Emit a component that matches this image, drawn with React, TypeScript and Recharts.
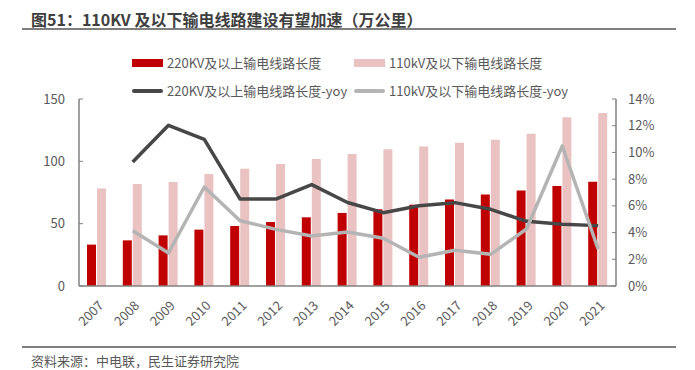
import React from 'react'
import { ComposedChart, Bar, Line, XAxis, YAxis } from 'recharts'

const years = ['2007', '2008', '2009', '2010', '2011', '2012', '2013', '2014', '2015', '2016', '2017', '2018', '2019', '2020', '2021']
const len220 = [33.2, 36.6, 40.6, 45.2, 48.1, 51.3, 55.1, 58.6, 61.5, 65.2, 69.3, 73.3, 76.7, 80.2, 83.7]
const len110 = [78.3, 81.8, 83.4, 89.8, 94.1, 97.9, 101.9, 105.9, 109.6, 111.8, 115.0, 117.4, 122.2, 135.3, 138.8]
const yoy220 = [null, 9.28, 12.03, 10.98, 6.51, 6.51, 7.59, 6.25, 5.49, 6.01, 6.24, 5.74, 4.84, 4.62, 4.52]
const yoy110 = [null, 4.14, 2.47, 7.41, 4.89, 4.24, 3.74, 4.04, 3.57, 2.15, 2.67, 2.37, 4.27, 10.48, 2.77]
const leftTicks = [0, 50, 100, 150]
const rightTicks = [0, 2, 4, 6, 8, 10, 12, 14]

const FONT = '"Noto Sans CJK SC", "Noto Sans", sans-serif'
const RED = '#c00000'
const PINK = '#eac2c2'
const DARK = '#474747'
const LIGHT = '#b4b4b4'
const AXIS = '#808080'
const TEXT = '#595959'

const data = years.map((y, i) => ({
  year: y,
  len220: len220[i],
  len110: len110[i],
  yoy220: yoy220[i],
  yoy110: yoy110[i],
}))

function YearTick({ x, y, payload }: any) {
  const tx = x + 1
  const ty = y + 6
  return (
    <text
      x={tx}
      y={ty}
      transform={`rotate(-45 ${tx} ${ty})`}
      textAnchor="end"
      dy="0.7em"
      fontSize={13}
      fill={TEXT}
      fontFamily={FONT}
    >
      {payload.value}
    </text>
  )
}

function LegendItem({ left, top, kind, color, label }: { left: number; top: number; kind: 'bar' | 'line'; color: string; label: string }) {
  return (
    <div style={{ position: 'absolute', left, top, display: 'flex', alignItems: 'center', whiteSpace: 'nowrap' }}>
      <span
        style={{
          display: 'inline-block',
          width: 31,
          height: kind === 'bar' ? 8 : 4,
          borderRadius: kind === 'line' ? 2 : 0,
          background: color,
          marginRight: 4,
        }}
      />
      <span style={{ fontSize: 13, color: TEXT }}>{label}</span>
    </div>
  )
}

export default function App() {
  return (
    <div style={{ position: 'absolute', left: 0, top: 0, width: 695, height: 370, background: '#fff', fontFamily: FONT }}>
      <div style={{ position: 'absolute', left: 31, top: 7, fontSize: 16, fontWeight: 700, color: '#404040', whiteSpace: 'nowrap' }}>
        图51：110KV 及以下输电线路建设有望加速（万公里）
      </div>
      <div style={{ position: 'absolute', left: 22, top: 28, width: 654, height: 2, background: '#7f7f7f' }} />

      <LegendItem left={132} top={53} kind="bar" color={RED} label="220KV及以上输电线路长度" />
      <LegendItem left={354} top={53} kind="bar" color={PINK} label="110kV及以下输电线路长度" />
      <LegendItem left={132} top={81} kind="line" color={DARK} label="220KV及以上输电线路长度-yoy" />
      <LegendItem left={354} top={81} kind="line" color={LIGHT} label="110kV及以下输电线路长度-yoy" />

      <div style={{ position: 'absolute', left: 0, top: 0 }}>
        <ComposedChart width={695} height={370} data={data} margin={{ top: 99, right: 30, bottom: 40, left: 30 }} barSize={9} barGap={1}>
          <XAxis
            dataKey="year"
            tick={<YearTick />}
            tickLine={false}
            axisLine={{ stroke: AXIS, strokeWidth: 1.5 }}
            height={44}
            interval={0}
          />
          <YAxis
            yAxisId="left"
            domain={[0, 150]}
            ticks={leftTicks}
            width={49}
            axisLine={{ stroke: AXIS, strokeWidth: 1.5 }}
            tickLine={{ stroke: AXIS }}
            tickSize={-4}
            tickMargin={18}
            tick={{ fontSize: 13, fill: TEXT, fontFamily: FONT }}
          />
          <YAxis
            yAxisId="right"
            orientation="right"
            domain={[0, 14]}
            ticks={rightTicks}
            tickFormatter={v => `${v}%`}
            width={49}
            axisLine={{ stroke: AXIS, strokeWidth: 1.5 }}
            tickLine={{ stroke: AXIS }}
            tickSize={-4}
            tickMargin={16}
            tick={{ fontSize: 13, fill: TEXT, fontFamily: FONT, textAnchor: 'start' }}
          />
          <Bar yAxisId="left" dataKey="len220" fill={RED} isAnimationActive={false} />
          <Bar yAxisId="left" dataKey="len110" fill={PINK} isAnimationActive={false} />
          <Line yAxisId="right" dataKey="yoy220" stroke={DARK} strokeWidth={3.5} dot={false} isAnimationActive={false} strokeLinejoin="round" />
          <Line yAxisId="right" dataKey="yoy110" stroke={LIGHT} strokeWidth={3.5} dot={false} isAnimationActive={false} strokeLinejoin="round" />
        </ComposedChart>
      </div>

      <div style={{ position: 'absolute', left: 22, top: 346, width: 654, height: 2, background: '#7f7f7f' }} />
      <div style={{ position: 'absolute', left: 31, top: 351, fontSize: 13, color: TEXT, whiteSpace: 'nowrap' }}>
        资料来源：中电联，民生证券研究院
      </div>
    </div>
  )
}
